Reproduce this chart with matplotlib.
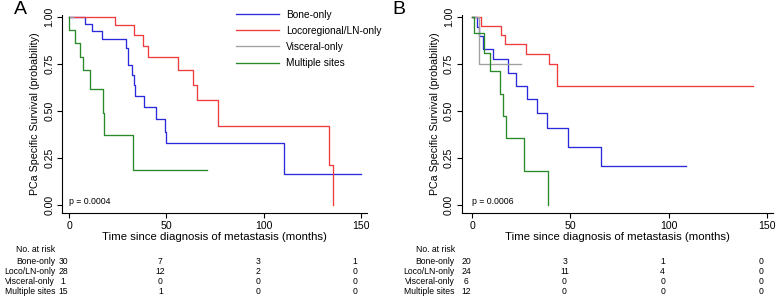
import matplotlib
matplotlib.use("Agg")
import matplotlib.pyplot as plt
from matplotlib.transforms import blended_transform_factory

plt.rcParams['font.family'] = ['Liberation Sans', 'DejaVu Sans']

groups = ["Bone-only", "Locoregional/LN-only", "Visceral-only", "Multiple sites"]
risk_labels = ["Bone-only", "Loco/LN-only", "Visceral-only", "Multiple sites"]
colors = ["#2b2bdc", "#f03c3c", "#a0a0a0", "#2a8a2a"]
risk_times = [0, 50, 100, 150]

# Panel A
a_bone_t = [0, 8.3, 11.7, 16.8, 29.2, 30.2, 32.4, 33.3, 34.1, 38.7, 44.7, 49.1, 49.8, 110.6, 150.3]
a_bone_s = [1, 0.964, 0.927, 0.884, 0.835, 0.746, 0.692, 0.637, 0.582, 0.523, 0.459, 0.390, 0.327, 0.164, 0.164]
a_loco_t = [0, 23.8, 33.3, 37.9, 40.8, 56.2, 63.9, 65.9, 76.4, 133.9, 135.9]
a_loco_s = [1, 0.959, 0.906, 0.849, 0.790, 0.719, 0.639, 0.559, 0.420, 0.212, 0.0]
a_visc_t = [0, 2]
a_visc_s = [1, 1]
a_mult_t = [0, 0, 3.1, 5.9, 7.3, 11.0, 17.5, 18.0, 33.0, 70.7]
a_mult_s = [1, 0.932, 0.861, 0.790, 0.719, 0.616, 0.491, 0.370, 0.185, 0.185]
a_risk = [[30, 7, 3, 1], [28, 12, 2, 0], [1, 0, 0, 0], [15, 1, 0, 0]]
a_p = "p = 0.0004"

# Panel B
b_bone_t = [0, 2.2, 3.5, 5.3, 10.6, 18.3, 22.3, 27.7, 32.8, 37.9, 48.9, 65.4, 108.7]
b_bone_s = [1, 0.95, 0.90, 0.83, 0.776, 0.705, 0.633, 0.562, 0.491, 0.411, 0.308, 0.206, 0.206]
b_loco_t = [0, 4.2, 14.6, 16.6, 27.3, 39.2, 43.0, 143.2]
b_loco_s = [1, 0.954, 0.906, 0.856, 0.802, 0.749, 0.632, 0.632]
b_visc_t = [0, 3.4, 24.8]
b_visc_s = [1, 0.751, 0.751]
b_mult_t = [0, 0.8, 6.1, 9.0, 14.1, 15.5, 17.2, 26.5, 38.6]
b_mult_s = [1, 0.915, 0.811, 0.714, 0.591, 0.473, 0.358, 0.178, 0.0]
b_risk = [[20, 3, 1, 0], [24, 11, 4, 0], [6, 0, 0, 0], [12, 0, 0, 0]]
b_p = "p = 0.0006"

fig = plt.figure(figsize=(7.78, 2.99), dpi=100)
W, H = 778.0, 299.0


def panel(left_px, right_px, xmin, letter, letter_x, curves, risk, ptext, legend):
    ax = fig.add_axes([left_px / W, 86 / H, (right_px - left_px) / W, 198 / H])
    for (t, s), c in zip(curves, colors):
        ax.step(t, s, where='post', color=c, lw=0.95)
    ax.set_xlim(xmin, 153.2)
    ax.set_ylim(-0.044, 1.012)
    for sp in ['top', 'right']:
        ax.spines[sp].set_visible(False)
    ax.spines['left'].set_linewidth(0.8)
    ax.spines['bottom'].set_linewidth(0.8)
    ax.set_xticks(risk_times)
    ax.set_yticks([0, 0.25, 0.5, 0.75, 1.0])
    ax.set_yticklabels(["0.00", "0.25", "0.50", "0.75", "1.00"], rotation=90, va='center')
    ax.tick_params(labelsize=7.6, length=3.5, width=0.8, pad=2)
    ax.set_ylabel("PCa Specific Survival (probability)", fontsize=7.7, labelpad=3)
    ax.set_xlabel("Time since diagnosis of metastasis (months)", fontsize=8.2, labelpad=1)
    ax.text(0, 0.015, ptext, fontsize=6.3, ha='left', va='center')
    fig.text(letter_x / W, 1 - 10 / H, letter, fontsize=14, ha='left', va='center')
    if legend:
        ax.legend(groups, loc='upper left', bbox_to_anchor=(0.542, 1.072), frameon=False,
                  fontsize=7.3, handlelength=4.2, labelspacing=0.6, handletextpad=0.7)
    tr = blended_transform_factory(ax.transData, fig.transFigure)
    lab_x = (left_px - 7) / W
    fig.text(lab_x, 1 - 249.5 / H, "No. at risk", fontsize=6.2, ha='right', va='center')
    rows_y = [262, 271.5, 281.5, 291.5]
    for lab, vals, yp in zip(risk_labels, risk, rows_y):
        fig.text(lab_x, 1 - yp / H, lab, fontsize=6.2, ha='right', va='center')
        for tt, v in zip(risk_times, vals):
            ax.text(tt - 3, 1 - yp / H, str(v), fontsize=6.2, ha='center', va='center',
                    transform=tr)
    return ax


panel(62, 367, -3.6, "A", 14,
      [(a_bone_t, a_bone_s), (a_loco_t, a_loco_s), (a_visc_t, a_visc_s), (a_mult_t, a_mult_s)],
      a_risk, a_p, True)
panel(461.7, 773, -5.4, "B", 392,
      [(b_bone_t, b_bone_s), (b_loco_t, b_loco_s), (b_visc_t, b_visc_s), (b_mult_t, b_mult_s)],
      b_risk, b_p, False)

fig.savefig("out.png", dpi=100)
